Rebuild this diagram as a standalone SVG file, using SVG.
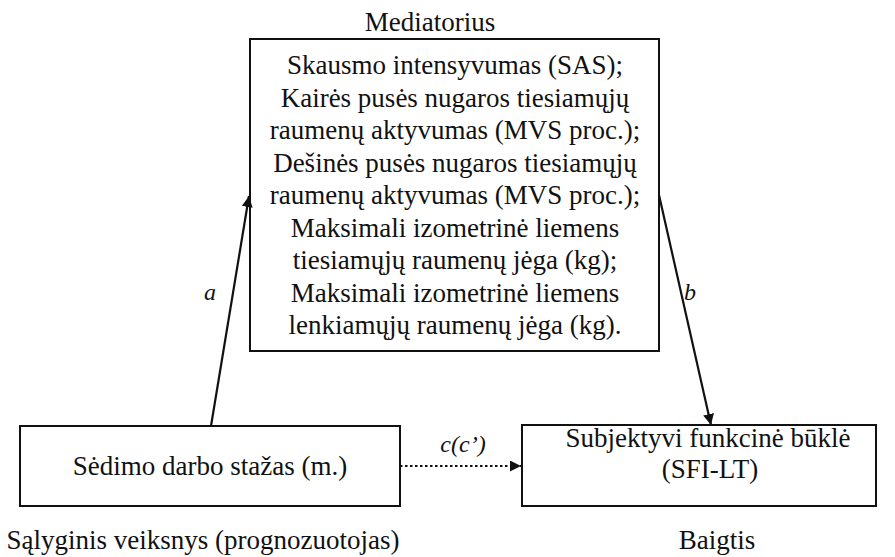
<svg xmlns="http://www.w3.org/2000/svg" width="895" height="557" viewBox="0 0 895 557">
  <style>
    text { font-family: 'Liberation Serif', 'Tinos', 'Times New Roman', 'DejaVu Serif', serif; font-size: 27px; fill: #111; text-anchor: middle; }
    .lbl { font-style: italic; font-size: 24px; }
    .box { fill: #fff; stroke: #111; stroke-width: 2; }
    .edge { stroke: #111; stroke-width: 2.2; fill: none; }
    .dot { stroke-dasharray: 2.5 2.5; }
  </style>
  <defs>
    <marker id="arrow" viewBox="0 0 10 10" refX="10" refY="5" markerWidth="11" markerHeight="11" markerUnits="userSpaceOnUse" orient="auto">
      <path d="M0,0 L10,5 L0,10 z" fill="#111"/>
    </marker>
  </defs>

  <rect width="895" height="557" fill="#fff"/>

  <!-- mediator -->
  <g id="mediator">
    <text x="430" y="31">Mediatorius</text>
    <rect class="box" x="250" y="39" width="409" height="312"/>
    <text x="455" y="74">Skausmo intensyvumas (SAS);</text>
    <text x="455" y="106.5">Kairės pusės nugaros tiesiamųjų</text>
    <text x="455" y="139">raumenų aktyvumas (MVS proc.);</text>
    <text x="455" y="171.5">Dešinės pusės nugaros tiesiamųjų</text>
    <text x="455" y="204">raumenų aktyvumas (MVS proc.);</text>
    <text x="455" y="236.5">Maksimali izometrinė liemens</text>
    <text x="455" y="269">tiesiamųjų raumenų jėga (kg);</text>
    <text x="455" y="301.5">Maksimali izometrinė liemens</text>
    <text x="455" y="334">lenkiamųjų raumenų jėga (kg).</text>
  </g>

  <!-- predictor -->
  <g id="predictor">
    <rect class="box" x="20" y="426" width="380" height="80"/>
    <text x="210" y="475">Sėdimo darbo stažas (m.)</text>
    <text x="203" y="549">Sąlyginis veiksnys (prognozuotojas)</text>
  </g>

  <!-- outcome -->
  <g id="outcome">
    <rect class="box" x="522" y="425" width="354" height="81"/>
    <text x="708" y="447">Subjektyvi funkcinė būklė</text>
    <text x="710" y="478">(SFI-LT)</text>
    <text x="717" y="549">Baigtis</text>
  </g>

  <!-- paths -->
  <g id="connectors">
    <line class="edge" x1="211" y1="426" x2="249" y2="196" marker-end="url(#arrow)"/>
    <line class="edge" x1="659" y1="195" x2="711" y2="425" marker-end="url(#arrow)"/>
    <line class="edge dot" x1="400" y1="466" x2="521" y2="466" marker-end="url(#arrow)"/>
    <text class="lbl" x="210" y="300">a</text>
    <text class="lbl" x="690" y="300">b</text>
    <text class="lbl" x="463" y="452">c(c’)</text>
  </g>
</svg>
